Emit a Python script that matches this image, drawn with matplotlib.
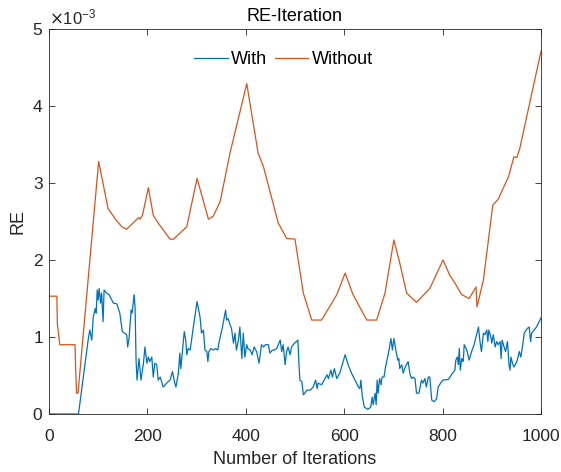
import numpy as np
import matplotlib
matplotlib.use("Agg")
import matplotlib.pyplot as plt
from matplotlib.ticker import ScalarFormatter

plt.rcParams['font.family'] = ['Liberation Sans', 'DejaVu Sans']

# RE values (units of 1e-3)
iter_without = [0, 16, 17, 22, 53, 54, 56, 59, 101, 120, 134, 148, 158, 182, 185, 190,
                202, 212, 222, 246, 253, 280, 301, 324, 334, 348, 368, 402, 425, 436,
                466, 483, 500, 517, 534, 554, 585, 602, 618, 646, 666, 683, 701, 713,
                727, 747, 774, 801, 814, 825, 839, 854, 868, 870, 883, 902, 913, 934,
                945, 951, 957, 1000]
re_without = [1.53, 1.53, 1.17, 0.90, 0.90, 0.63, 0.27, 0.27, 3.28, 2.67, 2.54, 2.43,
              2.40, 2.55, 2.53, 2.58, 2.94, 2.58, 2.48, 2.27, 2.27, 2.43, 3.06, 2.53,
              2.57, 2.76, 3.39, 4.29, 3.39, 3.21, 2.48, 2.28, 2.27, 1.57, 1.22, 1.22,
              1.55, 1.83, 1.55, 1.22, 1.22, 1.57, 2.26, 1.96, 1.57, 1.45, 1.63, 2.00,
              1.81, 1.70, 1.55, 1.50, 1.65, 1.39, 1.74, 2.71, 2.79, 3.08, 3.34, 3.33,
              3.45, 4.71]

iter_with = [0, 60, 80, 83, 87, 90, 94, 96, 98, 100, 102, 105, 107, 110, 112, 117, 122,
             126, 131, 138, 144, 149, 158, 160, 163, 167, 169, 173, 175, 177, 179, 183,
             187, 192, 195, 199, 202, 205, 209, 212, 215, 219, 222, 226, 229, 232, 239,
             246, 251, 255, 258, 263, 266, 268, 272, 275, 278, 280, 283, 287, 293, 301,
             307, 310, 314, 317, 321, 323, 325, 329, 334, 339, 343, 346, 352, 359, 361,
             364, 368, 371, 375, 378, 381, 385, 388, 392, 395, 398, 402, 404, 409, 413,
             417, 422, 427, 432, 436, 440, 446, 449, 454, 458, 463, 466, 470, 473, 476,
             480, 483, 486, 490, 493, 499, 503, 506, 508, 510, 514, 517, 520, 524, 531,
             537, 542, 545, 547, 554, 561, 565, 568, 573, 576, 580, 585, 591, 602, 608,
             615, 622, 629, 632, 634, 637, 641, 648, 654, 657, 659, 663, 665, 667, 669,
             672, 675, 677, 681, 684, 690, 695, 698, 701, 705, 709, 711, 713, 717, 720,
             724, 730, 734, 737, 740, 744, 747, 752, 757, 760, 764, 767, 771, 774, 778,
             783, 788, 791, 798, 801, 812, 818, 825, 827, 830, 832, 834, 836, 839, 842,
             844, 848, 850, 854, 859, 864, 868, 871, 873, 876, 879, 883, 886, 890, 892,
             894, 898, 900, 903, 907, 910, 913, 917, 919, 921, 925, 928, 932, 935, 937,
             939, 942, 945, 951, 956, 959, 963, 966, 972, 976, 979, 981, 991, 998, 1000]
re_with = [0.00, 0.00, 0.98, 1.09, 0.96, 1.26, 1.37, 1.31, 1.61, 1.48, 1.63, 1.44, 1.57,
           1.20, 1.61, 1.57, 1.55, 1.50, 1.44, 1.43, 1.31, 1.07, 1.03, 0.87, 1.00, 1.35,
           1.31, 1.55, 1.39, 0.70, 0.44, 0.72, 0.44, 0.66, 0.87, 0.66, 0.74, 0.68, 0.74,
           0.48, 0.66, 0.64, 0.44, 0.48, 0.42, 0.35, 0.40, 0.44, 0.55, 0.42, 0.35, 0.53,
           0.79, 0.59, 0.87, 1.07, 0.96, 0.77, 0.85, 0.83, 1.11, 1.46, 1.26, 1.05, 1.09,
           0.83, 0.81, 0.68, 0.81, 0.85, 0.83, 0.85, 0.83, 0.94, 1.11, 1.35, 1.22, 1.24,
           1.16, 1.11, 0.92, 1.05, 0.83, 0.96, 1.13, 0.72, 1.05, 0.74, 0.90, 0.85, 0.83,
           0.77, 0.87, 0.81, 0.66, 0.90, 0.87, 0.90, 0.90, 0.79, 0.83, 0.83, 0.85, 0.90,
           0.96, 0.81, 0.90, 0.64, 0.81, 0.87, 0.77, 0.87, 0.92, 0.94, 0.96, 0.66, 0.44,
           0.42, 0.25, 0.27, 0.31, 0.31, 0.35, 0.44, 0.33, 0.40, 0.38, 0.46, 0.51, 0.46,
           0.57, 0.48, 0.59, 0.46, 0.53, 0.77, 0.64, 0.53, 0.44, 0.35, 0.33, 0.44, 0.22,
           0.09, 0.06, 0.09, 0.22, 0.12, 0.27, 0.12, 0.44, 0.27, 0.46, 0.38, 0.48, 0.48,
           0.61, 0.79, 0.98, 0.83, 0.98, 0.83, 0.70, 0.72, 0.59, 0.64, 0.53, 0.61, 0.68,
           0.51, 0.46, 0.48, 0.46, 0.27, 0.27, 0.44, 0.40, 0.46, 0.35, 0.48, 0.48, 0.18,
           0.16, 0.20, 0.35, 0.42, 0.44, 0.45, 0.51, 0.57, 0.70, 0.74, 0.64, 0.85, 0.57,
           0.72, 0.68, 0.90, 0.85, 0.81, 0.70, 0.81, 0.90, 1.00, 1.07, 1.13, 0.94, 0.81,
           1.05, 1.03, 1.09, 0.94, 1.09, 1.00, 0.92, 1.03, 0.87, 0.94, 0.90, 0.94, 0.72,
           0.96, 0.87, 0.81, 0.94, 0.64, 0.57, 0.74, 0.66, 0.61, 0.68, 0.81, 0.74, 0.90,
           1.05, 1.11, 1.13, 0.94, 1.05, 1.13, 1.22, 1.25]

fig = plt.figure(figsize=(5.61, 4.72), dpi=100)
ax = fig.add_axes([0.0873, 0.1229, 0.8770, 0.8157])

ax.plot(iter_with, np.array(re_with) * 1e-3, color='#0072BD', lw=0.9, label='With')
ax.plot(iter_without, np.array(re_without) * 1e-3, color='#D95319', lw=0.9, label='Without')

ax.set_xlim(0, 1000)
ax.set_ylim(0, 5e-3)
ax.set_xticks([0, 200, 400, 600, 800, 1000])
ax.set_yticks(np.arange(0, 6) * 1e-3)
fmt = ScalarFormatter(useMathText=True)
fmt.set_powerlimits((-2, 2))
ax.yaxis.set_major_formatter(fmt)
ax.yaxis.get_offset_text().set_fontsize(12)
ax.yaxis.get_offset_text().set_color('#262626')

ax.tick_params(direction='in', top=True, right=True, length=4, width=0.6,
               labelsize=12.5, colors='#262626')
ax.tick_params(axis='x', pad=11)
ax.tick_params(axis='y', pad=4)
for sp in ax.spines.values():
    sp.set_linewidth(0.6)
    sp.set_color('#262626')

ax.set_xlabel('Number of Iterations', fontsize=13, color='#262626', labelpad=5)
ax.set_ylabel('RE', fontsize=13, color='#262626', labelpad=4)
ax.set_title('RE-Iteration', fontsize=13, color='#000000', pad=5.5)

ax.legend(loc='upper center', ncol=2, frameon=False, fontsize=13,
          handlelength=1.85, handletextpad=0.2, columnspacing=0.4,
          bbox_to_anchor=(0.477, 0.985))

fig.savefig('out.png', dpi=100)
